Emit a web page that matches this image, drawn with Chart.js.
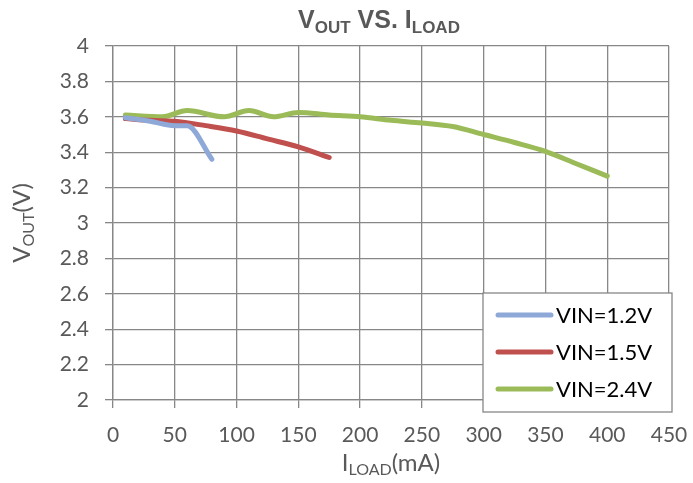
<!DOCTYPE html>
<html>
<head>
<meta charset="utf-8">
<script src="https://cdn.jsdelivr.net/npm/chart.js@4"></script>
<style>
  html, body { margin: 0; padding: 0; background: #fff; }
  #wrap { width: 693px; height: 483px; }
</style>
</head>
<body>
<div id="wrap"><canvas id="myChart" width="693" height="483"></canvas></div>
<script>
// values
const xTicks = [0, 50, 100, 150, 200, 250, 300, 350, 400, 450];
const yTicks = [2, 2.2, 2.4, 2.6, 2.8, 3, 3.2, 3.4, 3.6, 3.8, 4];

const load12 = [10, 30, 50, 60, 80];
const vout12 = [3.595, 3.575, 3.55, 3.55, 3.36];

const load15 = [10, 30, 50, 75, 100, 125, 150, 175];
const vout15 = [3.59, 3.58, 3.575, 3.55, 3.52, 3.475, 3.43, 3.37];

const load24 = [10, 40, 60, 90, 110, 130, 150, 175, 200, 225, 250, 275, 300, 325, 350, 375, 400];
const vout24 = [3.61, 3.60, 3.635, 3.60, 3.635, 3.60, 3.625, 3.61, 3.60, 3.58, 3.565, 3.545, 3.50, 3.455, 3.405, 3.335, 3.265];

function pts(xs, ys) {
    return xs.map((x, i) => ({ x: x, y: ys[i] }));
}

const FONT = "Lato, 'Noto Sans', sans-serif";
const GRID = '#878787';

// draws text with a subscript part: parts = [[text, isSub, font], ...]
function drawParts(ctx, parts, x, y, size, subSize, weight, align) {
    let w = 0;
    parts.forEach(p => {
        ctx.font = weight + ' ' + (p[1] ? subSize : size) + 'px ' + p[2];
        w += ctx.measureText(p[0]).width;
    });
    let cx = align === 'center' ? x - w / 2 : x;
    parts.forEach(p => {
        ctx.font = weight + ' ' + (p[1] ? subSize : size) + 'px ' + p[2];
        ctx.fillText(p[0], cx, p[1] ? y + size * 0.28 : y);
        cx += ctx.measureText(p[0]).width;
    });
}

const decorPlugin = {
    id: 'decor',
    afterDraw(chart) {
        const ctx = chart.ctx;
        const area = chart.chartArea;
        ctx.save();
        ctx.textBaseline = 'middle';
        ctx.textAlign = 'left';

        // title
        ctx.fillStyle = '#595959';
        const ar = "'Liberation Sans', Arial, sans-serif";
        drawParts(ctx, [['V', false, ar], ['OUT', true, ar], [' VS. I', false, ar], ['LOAD', true, ar]],
            379, 21, 25, 17, 'bold', 'center');

        // x axis title
        drawParts(ctx, [['I', false, FONT], ['LOAD', true, FONT], ['(mA)', false, FONT]],
            (area.left + area.right) / 2, 463, 24, 16, 'normal', 'center');

        // y axis title
        ctx.save();
        ctx.translate(22, (area.top + area.bottom) / 2);
        ctx.rotate(-Math.PI / 2);
        drawParts(ctx, [['V', false, FONT], ['OUT', true, FONT], ['(V)', false, FONT]],
            0, 0, 24, 16, 'normal', 'center');
        ctx.restore();

        // legend box inside the plot
        const bx = 483, by = 293, bw = 189, bh = 119;
        ctx.fillStyle = '#fff';
        ctx.fillRect(bx, by, bw, bh);
        ctx.strokeStyle = GRID;
        ctx.lineWidth = 1.3;
        ctx.strokeRect(bx, by, bw, bh);
        ctx.lineCap = 'round';
        chart.data.datasets.forEach((ds, i) => {
            const ly = by + 22 + i * 37;
            ctx.strokeStyle = ds.borderColor;
            ctx.lineWidth = 5;
            ctx.beginPath();
            ctx.moveTo(498, ly);
            ctx.lineTo(551, ly);
            ctx.stroke();
            ctx.fillStyle = '#000';
            ctx.font = '22px ' + FONT;
            ctx.fillText(ds.label, 556, ly + 1);
        });
        ctx.restore();
    }
};

const data = {
    datasets: [{
        label: 'VIN=1.2V',
        borderColor: '#8EA9D8',
        data: pts(load12, vout12),
    }, {
        label: 'VIN=1.5V',
        borderColor: '#C0504D',
        data: pts(load15, vout15),
    }, {
        label: 'VIN=2.4V',
        borderColor: '#9BBB59',
        data: pts(load24, vout24),
    }]
};

const config = {
    type: 'scatter',
    data: data,
    options: {
        responsive: false,
        animation: false,
        showLine: true,
        layout: { padding: { top: 46, right: 24, left: 0, bottom: 0 } },
        elements: {
            line: { borderWidth: 5, tension: 0.4, borderCapStyle: 'round', borderJoinStyle: 'round', cubicInterpolationMode: 'monotone' },
            point: { radius: 0, hoverRadius: 0 }
        },
        plugins: {
            legend: { display: false },
            title: { display: false },
            tooltip: { enabled: false }
        },
        scales: {
            x: {
                type: 'linear',
                min: 0,
                max: 450,
                afterFit: s => { s.height = 83; s.paddingLeft = 0; s.paddingRight = 0; },
                afterBuildTicks: s => { s.ticks = xTicks.map(v => ({ value: v })); },
                grid: { color: GRID, lineWidth: 1.3, drawTicks: true, tickLength: 8 },
                border: { color: GRID, width: 1.3 },
                ticks: { color: '#595959', font: { family: FONT, size: 21 }, padding: 15, maxRotation: 0 }
            },
            y: {
                type: 'linear',
                min: 2,
                max: 4,
                afterFit: s => { s.width = 113; s.paddingTop = 0; s.paddingBottom = 0; },
                afterBuildTicks: s => { s.ticks = yTicks.map(v => ({ value: v })); },
                grid: { color: GRID, lineWidth: 1.3, drawTicks: true, tickLength: 8 },
                border: { color: GRID, width: 1.3 },
                ticks: { color: '#595959', font: { family: FONT, size: 21 }, padding: 16,
                    callback: v => String(Math.round(v * 10) / 10) }
            }
        }
    },
    plugins: [decorPlugin]
};

const myChart = new Chart(document.getElementById('myChart'), config);
</script>
</body>
</html>
